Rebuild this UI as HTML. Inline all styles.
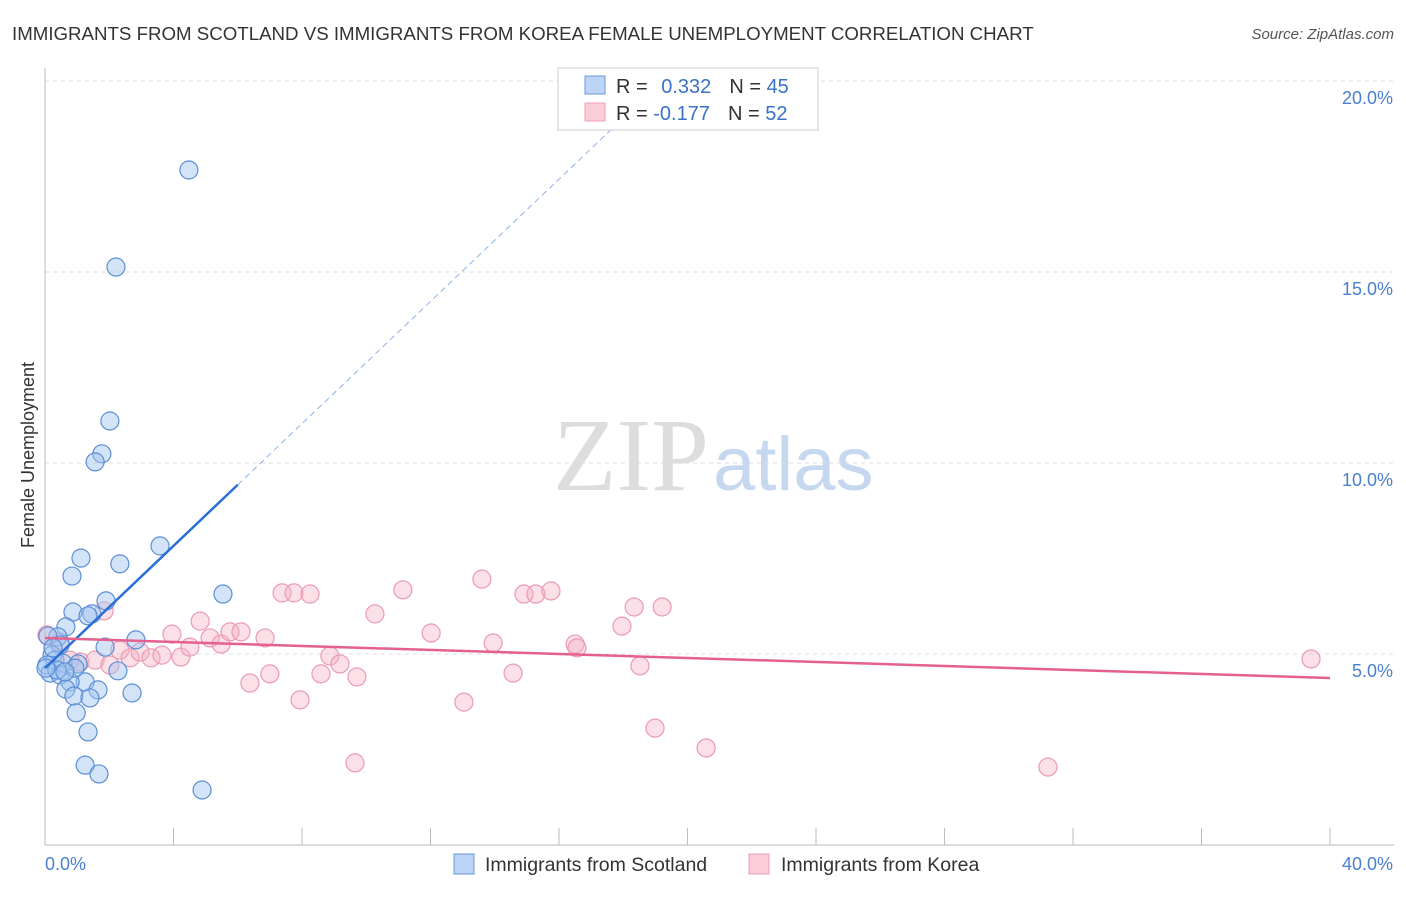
<!DOCTYPE html>
<html><head><meta charset="utf-8"><style>
body{margin:0;background:#fff;font-family:"Liberation Sans",sans-serif;}
</style></head><body>
<svg width="1406" height="892" xmlns="http://www.w3.org/2000/svg" id="chart" style="font-family:'Liberation Sans',sans-serif">
<text x="12" y="40" font-size="18.7" fill="#333">IMMIGRANTS FROM SCOTLAND VS IMMIGRANTS FROM KOREA FEMALE UNEMPLOYMENT CORRELATION CHART</text>
<text x="1394" y="39" font-size="15" fill="#555" font-style="italic" text-anchor="end">Source: ZipAtlas.com</text>
<text x="553" y="490" font-size="104" fill="#ddd" font-family="Liberation Serif">ZIP<tspan fill="#c6d8f0" font-family="Liberation Sans" font-size="76" dx="4">atlas</tspan></text>
<text transform="translate(34,455) rotate(-90)" font-size="18" fill="#333" text-anchor="middle">Female Unemployment</text>
<g id="grid"></g><g id="axes"></g><g id="marks"></g>
<g>
<rect x="558" y="68" width="260" height="62" fill="#fff" stroke="#ccc"/>
<rect x="585" y="76" width="20" height="18" fill="#bcd4f5" stroke="#6a9ad8"/>
<rect x="585" y="103" width="20" height="18" fill="#fbcdd9" stroke="#e8a0b4"/>
<text x="616" y="93" font-size="20" fill="#333">R = <tspan fill="#3a72c8" dx="8">0.332</tspan><tspan dx="18" fill="#333">N = </tspan><tspan fill="#3a72c8">45</tspan></text>
<text x="616" y="120" font-size="20" fill="#333">R = <tspan fill="#3a72c8">-0.177</tspan><tspan dx="18" fill="#333">N = </tspan><tspan fill="#3a72c8">52</tspan></text>
</g>
<g>
<rect x="454" y="854" width="20" height="20" fill="#bcd4f5" stroke="#6a9ad8"/>
<text x="485" y="871" font-size="19.5" fill="#333">Immigrants from Scotland</text>
<rect x="749" y="854" width="20" height="20" fill="#fbcdd9" stroke="#e8a0b4"/>
<text x="781" y="871" font-size="19.5" fill="#333">Immigrants from Korea</text>
</g>
</svg>
<script>
const blueX=[4.48,2.21,2.02,1.77,1.56,3.58,1.12,2.33,0.84,5.54,1.90,0.87,1.46,1.34,0.65,0.40,2.83,1.87,0.09,0.47,0.22,0.31,0.06,0.56,1.03,0.16,0.47,1.25,0.78,0.65,1.65,0.90,1.40,2.71,2.27,0.97,1.34,1.25,1.68,4.89,0.25,0.37,0.03,0.93,0.62];
const blueY=[17.67,15.13,11.10,10.24,10.03,7.83,7.51,7.36,7.04,6.57,6.39,6.10,6.05,6.00,5.71,5.45,5.37,5.18,5.47,5.24,4.97,4.84,4.71,4.76,4.74,4.50,4.45,4.27,4.27,4.08,4.06,3.90,3.85,3.98,4.56,3.46,2.96,2.09,1.86,1.44,5.16,4.58,4.63,4.63,4.53];
const pinkX=[0.06,0.47,1.84,2.33,2.65,2.96,3.30,3.64,3.95,4.23,4.51,4.83,5.14,5.48,5.76,6.10,6.38,6.85,7.00,7.38,7.75,8.25,7.94,8.59,8.87,9.18,9.65,9.71,10.27,11.14,12.02,13.04,13.60,13.95,14.57,14.91,15.28,15.75,16.50,16.56,17.96,18.34,18.52,18.99,19.21,20.58,31.22,39.41,1.09,1.56,2.02,0.78];
const pinkY=[5.50,5.31,6.13,5.10,4.90,5.05,4.90,4.97,5.52,4.92,5.18,5.86,5.42,5.26,5.58,5.58,4.24,5.42,4.48,6.60,6.60,6.57,3.80,4.48,4.95,4.74,2.15,4.40,6.05,6.68,5.55,3.74,6.96,5.29,4.50,6.57,6.57,6.65,5.26,5.16,5.73,6.23,4.69,3.06,6.23,2.54,2.04,4.87,4.79,4.84,4.71,4.84];
const yTicks=[5,10,15,20];
const yTickLabels=["5.0%","10.0%","15.0%","20.0%"];
const blueTrend=[4.63,0.80];
const pinkTrend=[5.42,-0.0262];
const NS="http://www.w3.org/2000/svg";
const xs=v=>45+v/40*1285, ys=v=>845-v/5*191;
function mk(tag,attrs,parent){const e=document.createElementNS(NS,tag);for(const k in attrs)e.setAttribute(k,attrs[k]);document.getElementById(parent).appendChild(e);return e;}
yTicks.forEach((t,i)=>{
 const l=mk('line',{x1:45,x2:1394,y1:ys(t),y2:ys(t),stroke:'#ddd','stroke-dasharray':'4,4'},'grid');
 
 
 const tx=mk('text',{x:1393,y:ys(t)+23,'font-size':18,fill:'#4a7fd0','text-anchor':'end'},'grid');
 tx.textContent=yTickLabels[i];
 
 
});
mk('line',{x1:45,x2:45,y1:68,y2:845,stroke:'#bbb'},'axes');
mk('line',{x1:45,x2:1394,y1:845,y2:845,stroke:'#bbb'},'axes');
for(let i=0;i<=10;i++){const t=mk('line',{x1:xs(i*4),x2:xs(i*4),y1:828,y2:845,stroke:'#bbb'},'axes');}
let a=mk('text',{x:45,y:870,'font-size':18,fill:'#4a7fd0'},'axes');a.textContent='0.0%';

a=mk('text',{x:1393,y:870,'font-size':18,fill:'#4a7fd0','text-anchor':'end'},'axes');a.textContent='40.0%';

pinkX.forEach((x,i)=>{const c=mk('circle',{cx:xs(x),cy:ys(pinkY[i]),r:9,fill:'rgba(246,178,198,0.4)',stroke:'#eb9ab3','stroke-width':1.2},'marks');
 
 });
blueX.forEach((x,i)=>{const c=mk('circle',{cx:xs(x),cy:ys(blueY[i]),r:9,fill:'rgba(160,196,240,0.45)',stroke:'#5b8fd6','stroke-width':1.2},'marks');
 
 });
const bx1=6.0, bx2=19.3;
let t=mk('line',{x1:xs(0),y1:ys(blueTrend[0]),x2:xs(bx1),y2:ys(blueTrend[0]+blueTrend[1]*bx1),stroke:'#2a6fd6','stroke-width':2.5},'marks');

t=mk('line',{x1:xs(bx1),y1:ys(blueTrend[0]+blueTrend[1]*bx1),x2:xs(bx2),y2:ys(blueTrend[0]+blueTrend[1]*bx2),stroke:'#8fb2e6','stroke-width':1,'stroke-dasharray':'6,4'},'marks');

t=mk('line',{x1:xs(0),y1:ys(pinkTrend[0]),x2:xs(40),y2:ys(pinkTrend[0]+pinkTrend[1]*40),stroke:'#e5608e','stroke-width':2.5},'marks');

</script>
</body></html>
